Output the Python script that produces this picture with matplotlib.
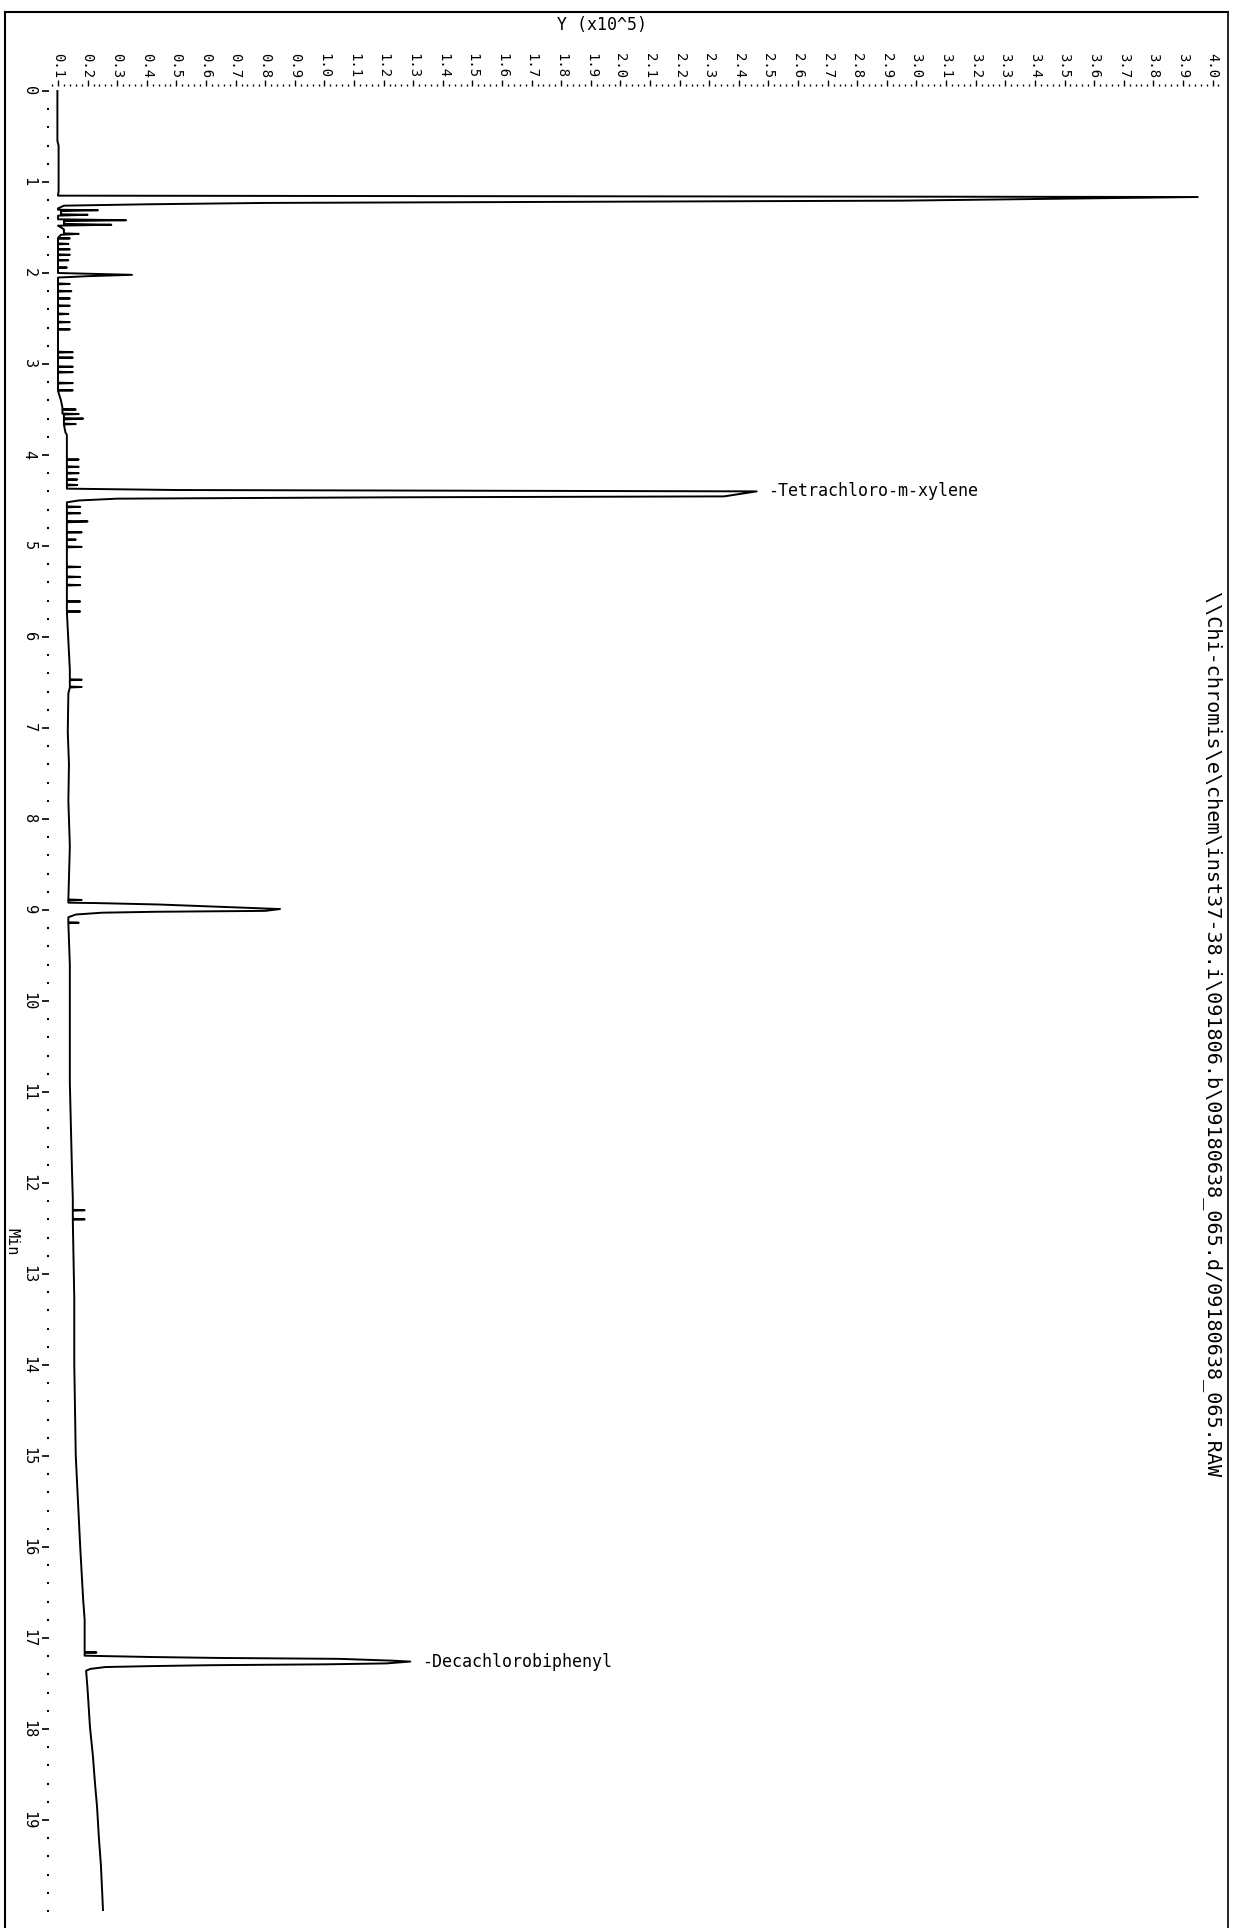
import numpy as np
import matplotlib
matplotlib.use("Agg")
import matplotlib.pyplot as plt
from matplotlib.lines import Line2D
from matplotlib.ticker import MultipleLocator, FormatStrFormatter

# chromatogram trace: retention time (min) and signal (x10^5)
trace_min = [
    0.00, 0.55, 0.60, 1.10, 1.15, 1.165, 1.205, 1.215, 1.23, 1.245, 1.26,
    1.29, 1.305, 1.31, 1.32, 1.355, 1.36, 1.37, 1.41, 1.42, 1.43, 1.46, 1.47, 1.48,
    1.52, 1.565, 1.57, 1.58,
    1.615, 1.62, 1.625, 1.675, 1.68, 1.685, 1.735, 1.74, 1.745, 1.795, 1.80, 1.805,
    1.855, 1.86, 1.865, 1.935, 1.94, 1.945,
    2.00, 2.02, 2.035, 2.05,
    2.115, 2.12, 2.125, 2.195, 2.20, 2.205, 2.275, 2.28, 2.285, 2.355, 2.36, 2.365,
    2.445, 2.45, 2.455, 2.535, 2.54, 2.545, 2.615, 2.62, 2.625,
    2.865, 2.87, 2.875, 2.925, 2.93, 2.935, 3.025, 3.03, 3.035, 3.085, 3.09, 3.095,
    3.205, 3.21, 3.215, 3.285, 3.29, 3.295,
    3.40, 3.48, 3.495, 3.50, 3.505, 3.545, 3.55, 3.555, 3.595, 3.60, 3.61,
    3.655, 3.66, 3.665, 3.75, 3.78,
    4.045, 4.05, 4.055, 4.125, 4.13, 4.135, 4.195, 4.20, 4.205, 4.265, 4.27, 4.275,
    4.325, 4.33, 4.335, 4.37, 4.385, 4.40, 4.455, 4.465, 4.48, 4.50, 4.52,
    4.565, 4.57, 4.575, 4.635, 4.64, 4.645, 4.725, 4.73, 4.74, 4.845, 4.85, 4.855,
    4.925, 4.93, 4.935, 5.005, 5.01, 5.015,
    5.225, 5.23, 5.235, 5.335, 5.34, 5.345, 5.425, 5.43, 5.435, 5.605, 5.61, 5.615,
    5.715, 5.72, 5.725,
    6.36, 6.465, 6.47, 6.475, 6.545, 6.55, 6.555, 6.62, 7.04, 7.40, 7.80, 8.30,
    8.85, 8.885, 8.89, 8.895, 8.92, 8.925, 8.94, 8.99, 9.01, 9.02, 9.03, 9.05, 9.08,
    9.135, 9.14, 9.145, 9.60, 10.74, 10.90, 11.84, 12.17,
    12.295, 12.30, 12.305, 12.395, 12.40, 12.405, 13.27, 14.00, 15.00, 16.00,
    16.58, 16.80, 17.12, 17.155, 17.16, 17.165, 17.195, 17.20, 17.21, 17.22, 17.23, 17.25,
    17.26, 17.28, 17.29, 17.30, 17.31, 17.32, 17.34, 17.36, 17.57, 17.98,
    18.30, 18.60, 18.86, 19.19, 19.50, 19.99,
]
trace_y = [
    0.098, 0.098, 0.102, 0.102, 0.100, 3.95, 2.95, 2.10, 0.80, 0.40, 0.12,
    0.10, 0.10, 0.235, 0.11, 0.11, 0.20, 0.10, 0.10, 0.33, 0.12, 0.12, 0.28, 0.10,
    0.12, 0.12, 0.17, 0.11,
    0.10, 0.14, 0.10, 0.10, 0.135, 0.10, 0.10, 0.14, 0.10, 0.10, 0.14, 0.10,
    0.10, 0.135, 0.10, 0.10, 0.13, 0.10,
    0.10, 0.35, 0.20, 0.10,
    0.10, 0.14, 0.10, 0.10, 0.145, 0.10, 0.10, 0.14, 0.10, 0.10, 0.14, 0.10,
    0.10, 0.135, 0.10, 0.10, 0.14, 0.10, 0.10, 0.14, 0.10,
    0.10, 0.15, 0.10, 0.10, 0.15, 0.10, 0.10, 0.15, 0.10, 0.10, 0.15, 0.10,
    0.10, 0.15, 0.10, 0.10, 0.15, 0.10,
    0.11, 0.115, 0.115, 0.16, 0.115, 0.115, 0.17, 0.12, 0.12, 0.185, 0.12,
    0.12, 0.16, 0.12, 0.125, 0.13,
    0.13, 0.17, 0.13, 0.13, 0.17, 0.13, 0.13, 0.17, 0.13, 0.13, 0.165, 0.13,
    0.13, 0.165, 0.13, 0.13, 0.50, 2.46, 2.35, 1.24, 0.30, 0.17, 0.13,
    0.13, 0.175, 0.13, 0.13, 0.175, 0.13, 0.13, 0.20, 0.13, 0.13, 0.18, 0.13,
    0.13, 0.16, 0.13, 0.13, 0.18, 0.13,
    0.13, 0.175, 0.13, 0.13, 0.175, 0.13, 0.13, 0.175, 0.13, 0.13, 0.175, 0.13,
    0.13, 0.175, 0.13,
    0.14, 0.14, 0.18, 0.14, 0.14, 0.18, 0.14, 0.135, 0.133, 0.137, 0.135, 0.14,
    0.135, 0.135, 0.18, 0.135, 0.135, 0.24, 0.44, 0.85, 0.80, 0.43, 0.25, 0.16, 0.135,
    0.135, 0.17, 0.135, 0.14, 0.14, 0.14, 0.147, 0.15,
    0.15, 0.19, 0.15, 0.15, 0.19, 0.15, 0.155, 0.155, 0.16, 0.175,
    0.185, 0.19, 0.19, 0.19, 0.23, 0.19, 0.19, 0.26, 0.42, 0.64, 1.05, 1.23,
    1.29, 1.21, 1.01, 0.61, 0.41, 0.26, 0.21, 0.195, 0.20, 0.208,
    0.218, 0.225, 0.232, 0.238, 0.245, 0.252,
]

peak_names = ["-Tetrachloro-m-xylene", "-Decachlorobiphenyl"]
peak_min = [4.40, 17.26]
peak_y = [2.46, 1.29]

x_ticks = np.round(np.arange(0.1, 4.01, 0.1), 1)
y_ticks = list(range(0, 20))

file_path = "\\\\Chi-chromis\\e\\chem\\inst37-38.i\\091806.b\\09180638_065.d/09180638_065.RAW"

W, H = 1233, 1928
fig = plt.figure(figsize=(W / 100, H / 100), dpi=100)
mono = "DejaVu Sans Mono"

# axes placed by pixel edges of the printout
left, right, top, bottom = 49, 1222, 86, 1920
ax = fig.add_axes([left / W, 1 - bottom / H, (right - left) / W, (bottom - top) / H])

ax.plot(trace_y, trace_min, color="black", lw=1.4)

for name, t, v in zip(peak_names, peak_min, peak_y):
    ax.text(v + 0.04, t, name, fontsize=12, family=mono, va="center", ha="left")

ax.set_xlim(0.0696, 4.032)
ax.set_ylim(20.1, -0.055)

ax.xaxis.tick_top()
ax.set_xticks(x_ticks)
ax.xaxis.set_major_formatter(FormatStrFormatter("%.1f"))
ax.xaxis.set_minor_locator(MultipleLocator(0.02))
ax.set_yticks(y_ticks)
ax.yaxis.set_minor_locator(MultipleLocator(0.2))

for s in ax.spines.values():
    s.set_visible(False)

ax.tick_params(axis="x", which="major", length=4, width=1, direction="out", pad=2)
ax.tick_params(axis="x", which="minor", length=1.5, width=1, direction="out")
ax.tick_params(axis="y", which="major", length=5, width=1.2, direction="out", pad=4)
ax.tick_params(axis="y", which="minor", length=1.5, width=1.5, direction="out")

for lab in ax.get_xticklabels():
    lab.set_rotation(270)
    lab.set_fontsize(10)
    lab.set_family(mono)
    lab.set_ha("center")
    lab.set_va("bottom")
for lab in ax.get_yticklabels():
    lab.set_rotation(270)
    lab.set_fontsize(11)
    lab.set_family(mono)
    lab.set_ha("right")
    lab.set_va("center")

fig.text(602 / W, 1 - 25 / H, "Y (x10^5)", fontsize=12, family=mono, ha="center", va="center")
fig.text(12 / W, 1 - 1242 / H, "Min", fontsize=11, family=mono, rotation=270,
         ha="center", va="center")
fig.text(1212 / W, 1 - 1035 / H, file_path, fontsize=14.5, family=mono, rotation=270,
         ha="center", va="center")

# page frame
fx0, fx1, fy0 = 5 / W, 1228 / W, 1 - 12 / H
fig.add_artist(Line2D([fx0, fx0], [0, fy0], color="black", lw=1.5, transform=fig.transFigure))
fig.add_artist(Line2D([fx0, fx1], [fy0, fy0], color="black", lw=1.5, transform=fig.transFigure))
fig.add_artist(Line2D([fx1, fx1], [0, fy0], color="black", lw=1.2, transform=fig.transFigure))

fig.savefig("out.png", dpi=100)
